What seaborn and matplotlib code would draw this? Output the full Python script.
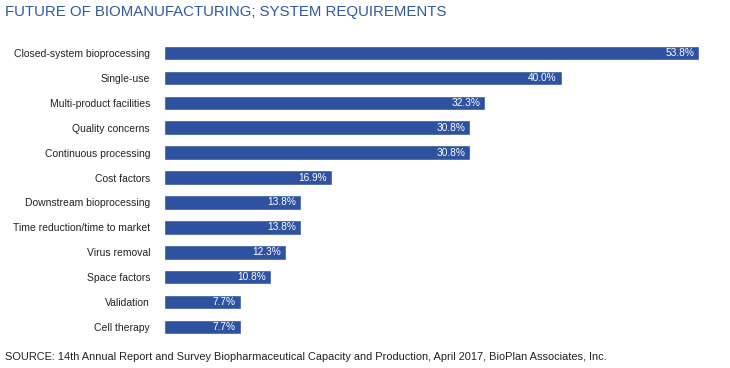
import matplotlib
matplotlib.use("Agg")
import matplotlib.pyplot as plt
import pandas as pd
import seaborn as sns

categories = ["Closed-system bioprocessing", "Single-use", "Multi-product facilities",
              "Quality concerns", "Continuous processing", "Cost factors",
              "Downstream bioprocessing", "Time reduction/time to market",
              "Virus removal", "Space factors", "Validation", "Cell therapy"]
values = [53.8, 40.0, 32.3, 30.8, 30.8, 16.9, 13.8, 13.8, 12.3, 10.8, 7.7, 7.7]

df = pd.DataFrame({"category": categories, "value": values})

sns.set_style("white")
plt.rcParams["font.family"] = ["Liberation Sans", "DejaVu Sans"]

fig = plt.figure(figsize=(7.3, 3.68), dpi=100)
ax = fig.add_axes([164 / 730, 1 - 339.5 / 368, (699 - 164) / 730, 299 / 368])

sns.barplot(data=df, x="value", y="category", color="#2e52a0", saturation=1,
            width=0.58, ax=ax)

ax.set_xlim(0, 53.8)
ax.set_ylim(11.5, -0.5)
ax.set_xlabel("")
ax.set_ylabel("")
ax.set_xticks([])
ax.tick_params(axis="y", length=0, pad=10, labelsize=7.5, labelcolor="#222222")
sns.despine(ax=ax, left=True, bottom=True)

for i, v in enumerate(values):
    ax.text(v - 0.5, i, f"{v:.1f}%", ha="right", va="center", color="white", fontsize=7.3)

fig.text(5 / 730, 1 - 12 / 368, "FUTURE OF BIOMANUFACTURING; SYSTEM REQUIREMENTS",
         ha="left", va="center", fontsize=10.8, color="#2d5aa0")
fig.text(5 / 730, 1 - 357 / 368,
         "SOURCE: 14th Annual Report and Survey Biopharmaceutical Capacity and Production, April 2017, BioPlan Associates, Inc.",
         ha="left", va="center", fontsize=7.9, color="#222222")

fig.savefig("out.png", dpi=100)
